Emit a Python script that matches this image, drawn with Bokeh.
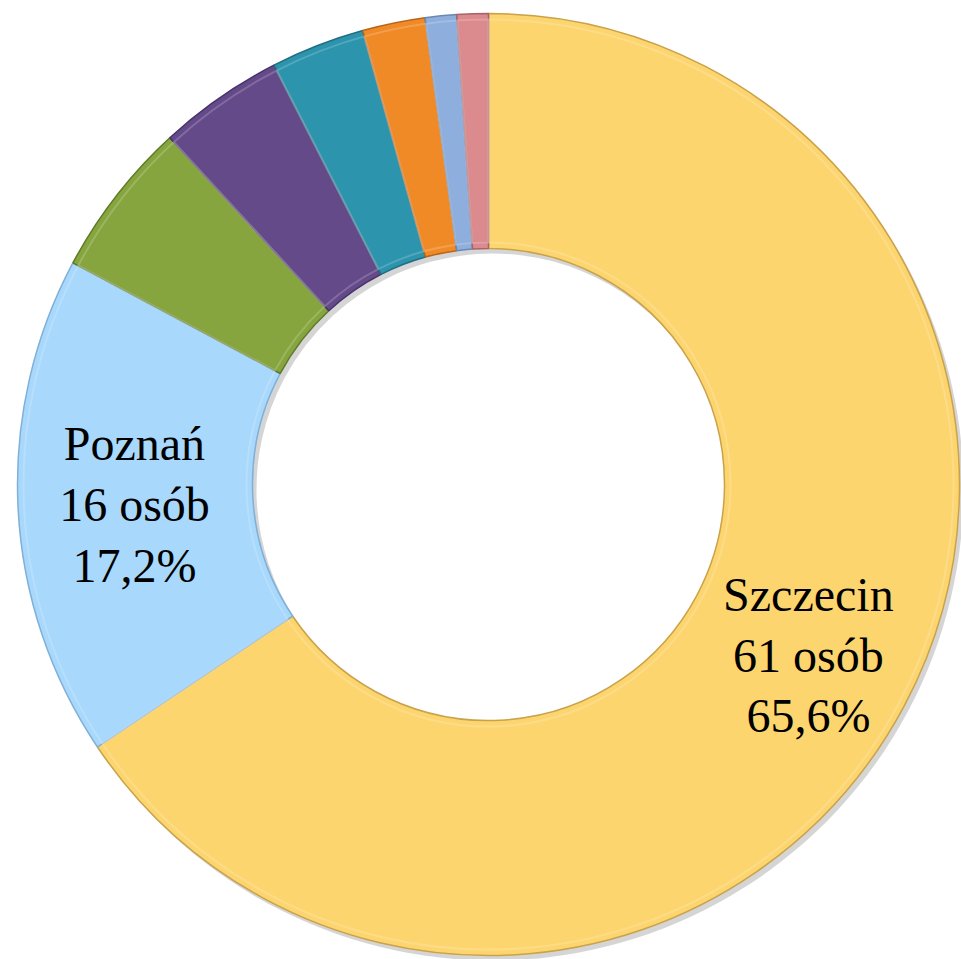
import math
from bokeh.plotting import figure
from bokeh.models import Range1d, ColumnDataSource
from bokeh.core.properties import value
from bokeh.embed import file_html
from bokeh.resources import INLINE

# ---- data ----
categories = ["Szczecin", "Poznań", "", "", "", "", "", ""]
counts = [61, 16, 5, 4, 3, 2, 1, 1]
colors = ["#FDD56F", "#A8D8FC", "#86A53E", "#654A8A", "#2D94AE", "#F08A26", "#8EAEDD", "#DB8A8E"]
edges = ["#C9A24A", "#7FB0D8", "#5E7A28", "#47326A", "#1F6E82", "#B8651A", "#6A88B5", "#A86468"]

# ---- layout ----
W, H = 961, 959
cx_img, cy_img = 488, 484          # centre in page pixels
r_out, r_in = 471, 236
label_nudge = [(0, 0), (8, -2)]    # pixel nudges for label blocks

total = sum(counts)
start, end, mids = [], [], []
acc = 0.0
for c in counts:
    a0 = acc / total * 2 * math.pi
    acc += c
    a1 = acc / total * 2 * math.pi
    start.append(math.pi / 2 - a0)
    end.append(math.pi / 2 - a1)
    mids.append((a0 + a1) / 2)

src = ColumnDataSource(dict(start=start, end=end, color=colors, edge=edges))

p = figure(width=W, height=H, output_backend="svg", toolbar_location=None,
           x_range=Range1d(-cx_img, W - cx_img),
           y_range=Range1d(-(H - cy_img), cy_img),
           min_border=0)
p.axis.visible = False
p.grid.visible = False
p.outline_line_color = None
p.background_fill_color = "white"

# soft shadow
p.annular_wedge(x=4, y=-5, inner_radius=r_in, outer_radius=r_out,
                start_angle="start", end_angle="end", direction="clock",
                fill_color="#888888", fill_alpha=0.35, line_color=None, source=src)

p.annular_wedge(x=0, y=0, inner_radius=r_in, outer_radius=r_out,
                start_angle="start", end_angle="end", direction="clock",
                fill_color="color", line_color="edge", line_width=1.5, source=src)
# subtle inner highlight ring
p.annular_wedge(x=0, y=0, inner_radius=r_in + 6, outer_radius=r_out - 6,
                start_angle="start", end_angle="end", direction="clock",
                fill_color=None, line_color="white", line_alpha=0.18, line_width=2, source=src)

# labels
lx, ly, lt = [], [], []
r_lab = (r_in + r_out) / 2 + 9
for i, name in enumerate(categories):
    if not name:
        continue
    pct = f"{counts[i] / total * 100:.1f}".replace(".", ",")
    dx, dy = label_nudge[i]
    lx.append(r_lab * math.sin(mids[i]) + dx)
    ly.append(r_lab * math.cos(mids[i]) + dy)
    lt.append(f"{name}\n{counts[i]} osób\n{pct}%")

p.text(x=lx, y=ly, text=lt, text_align="center", text_baseline="middle",
       text_font=value("'Liberation Serif', 'Times New Roman', serif"), text_font_size="48px",
       text_color="black", text_line_height=1.15)

open("out.html", "w").write(file_html(p, INLINE))
